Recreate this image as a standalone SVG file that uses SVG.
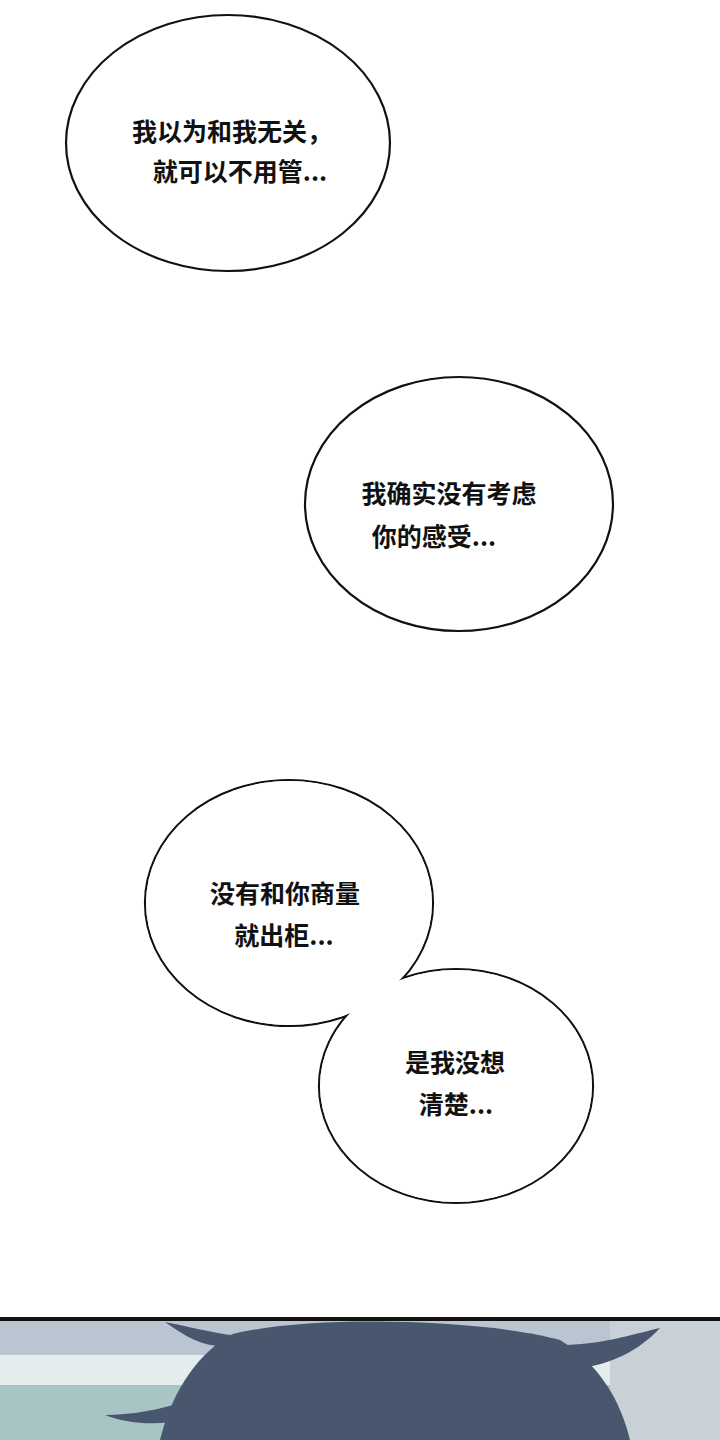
<svg xmlns="http://www.w3.org/2000/svg" width="720" height="1440" viewBox="0 0 720 1440">
<style>
.b{fill:#fff;stroke:#111;stroke-width:2.2}
.f{fill:#fff;stroke:none}
.t{font-family:"Noto Sans CJK SC",sans-serif;font-weight:bold;font-size:25px;fill:#111;text-anchor:middle}
</style>
<rect width="720" height="1440" fill="#fff"/>
<g id="bubble1"><ellipse class="b" cx="228" cy="143" rx="162" ry="128"/>
<text class="t" x="232" y="141">我以为和我无关，</text><text class="t" x="240" y="181">就可以不用管...</text></g>
<g id="bubble2"><ellipse class="b" cx="459" cy="504" rx="154" ry="127"/>
<text class="t" x="449" y="503">我确实没有考虑</text><text class="t" x="434" y="546">你的感受...</text></g>
<g id="bubble34">
<ellipse class="b" cx="289" cy="903" rx="144" ry="123"/>
<ellipse class="b" cx="456" cy="1086" rx="137" ry="117"/>
<ellipse class="f" cx="289" cy="903" rx="143" ry="122"/>
<ellipse class="f" cx="456" cy="1086" rx="136" ry="116"/>
<text class="t" x="285" y="903">没有和你商量</text><text class="t" x="284" y="945">就出柜...</text>
<text class="t" x="455" y="1072">是我没想</text><text class="t" x="456" y="1114">清楚...</text></g>
<g id="panel">
<rect x="0" y="1320" width="720" height="120" fill="#b9c6d2"/>
<rect x="0" y="1355" width="720" height="30" fill="#e4ecee"/>
<rect x="0" y="1385" width="720" height="55" fill="#a9c4c4"/>
<rect x="610" y="1320" width="110" height="120" fill="#c8d0d8"/>
<path d="M160 1440 C170 1400 190 1360 230 1335 C300 1315 480 1318 560 1340 C600 1365 620 1400 630 1440 Z" fill="#48566e"/>
<path d="M230 1335 C200 1330 180 1325 165 1322 C190 1340 210 1350 235 1345 Z M560 1345 C600 1345 630 1335 660 1328 C640 1350 610 1365 580 1368 Z M190 1400 C160 1410 130 1415 105 1415 C130 1425 160 1425 185 1420 Z" fill="#48566e"/>
<rect x="0" y="1317" width="720" height="4" fill="#111"/>
</g>
</svg>
